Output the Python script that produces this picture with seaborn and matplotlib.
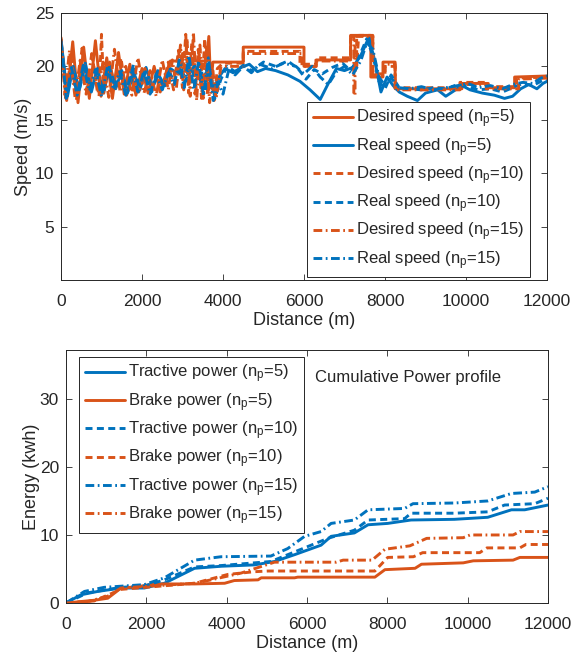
import matplotlib
matplotlib.use("Agg")
import matplotlib.pyplot as plt
import seaborn as sns
import pandas as pd

# ---------------- speed profiles (distance in m, speed in m/s) ----------------
dist_des5 = [0, 140, 290, 420, 560, 700, 850, 990, 1130, 1270, 1420, 1560, 1700, 1850, 2000,
             2150, 2300, 2450, 2600, 2700, 3000, 3000, 3300, 3300, 3600, 3650, 3700, 3750,
             4500, 4500, 6000, 6000, 6300, 6300, 7150, 7150, 7650, 7650, 7950, 7950, 8250,
             8250, 9900, 9900, 10550, 10550, 11200, 11200, 12000]
speed_des5 = [22.7, 16.8, 22.3, 16.6, 21.8, 17.0, 22.4, 17.2, 20.8, 17.0, 21.3, 17.4, 20.2,
              17.3, 19.8, 17.5, 20.0, 17.6, 19.4, 20.5, 20.5, 21.2, 21.2, 20.5, 20.5, 22.8,
              18.0, 20.4, 20.4, 21.8, 21.8, 20.0, 20.0, 20.6, 20.6, 22.9, 22.9, 19.0, 19.0,
              20.4, 20.4, 17.9, 17.9, 18.4, 18.4, 18.0, 18.0, 19.0, 19.1]

dist_real5 = [0, 160, 300, 450, 600, 750, 900, 1050, 1200, 1350, 1500, 1650, 1800, 1950, 2100,
              2250, 2400, 2550, 2700, 2850, 3000, 3150, 3300, 3450, 3600, 3750, 3900, 4050,
              4250, 4450, 4650, 4850, 5050, 5300, 5600, 5900, 6150, 6400, 6600, 6800, 7000,
              7200, 7400, 7600, 7750, 7900, 8050, 8200, 8350, 8550, 8800, 9000, 9300, 9500,
              9700, 9900, 10100, 10400, 10700, 10950, 11150, 11350, 11550, 11750, 11900,
              12000]
speed_real5 = [22.5, 17.2, 20.0, 17.8, 20.3, 17.6, 19.8, 17.5, 20.1, 17.9, 19.6, 17.6, 19.4,
               17.8, 19.9, 17.9, 19.3, 18.2, 19.8, 19.4, 20.3, 19.2, 20.1, 18.6, 19.5, 17.8,
               19.0, 19.8, 19.4, 19.9, 20.2, 19.5, 19.8, 19.6, 19.2, 18.6, 17.8, 16.9, 18.4,
               19.8, 19.6, 19.9, 21.0, 22.7, 20.5, 17.6, 19.0, 18.2, 17.6, 17.2, 16.8, 17.5,
               17.8, 17.2, 17.7, 18.2, 17.8, 17.5, 17.3, 17.0, 17.2, 17.9, 18.3, 17.9, 18.4,
               18.6]

dist_des10 = [0, 120, 250, 380, 520, 660, 800, 940, 1000, 1060, 1200, 1340, 1480, 1620, 1770,
              1920, 2070, 2220, 2370, 2520, 2650, 2780, 2900, 3000, 3080, 3150, 3230, 3310,
              3390, 3470, 3550, 3620, 3700, 3780, 3860, 4000, 4500, 4500, 5900, 5900, 6300,
              6300, 7150, 7150, 7300, 7300, 7350, 7700, 7700, 8000, 8000, 8250, 8250, 9850,
              9850, 10500, 10500, 11250, 11250, 12000]
speed_des10 = [22.5, 17.0, 21.0, 16.8, 21.7, 17.5, 20.2, 17.2, 23.0, 17.5, 20.4, 17.8, 20.8,
               17.3, 19.5, 17.6, 19.8, 17.9, 19.3, 18.0, 20.4, 17.8, 21.5, 18.0, 23.0, 17.5,
               22.2, 17.4, 21.6, 17.0, 22.6, 17.3, 20.0, 16.8, 19.8, 20.3, 20.3, 21.4, 21.4,
               20.2, 20.2, 20.8, 20.8, 22.6, 22.6, 20.0, 22.9, 22.9, 19.3, 19.3, 20.0, 20.0,
               18.0, 18.0, 18.5, 18.5, 18.1, 18.1, 18.9, 19.0]

dist_real10 = [0, 150, 290, 440, 590, 740, 890, 1040, 1190, 1340, 1490, 1640, 1790, 1940, 2090,
               2240, 2390, 2540, 2690, 2840, 2960, 3080, 3200, 3320, 3440, 3560, 3680, 3800,
               3950, 4100, 4300, 4500, 4700, 5000, 5300, 5600, 5850, 6050, 6250, 6450, 6700,
               6950, 7150, 7350, 7550, 7700, 7850, 8000, 8150, 8350, 8600, 8900, 9200, 9500,
               9800, 10050, 10300, 10600, 10900, 11150, 11400, 11650, 11850, 12000]
speed_real10 = [22.3, 17.4, 19.6, 17.6, 20.0, 17.9, 19.5, 17.4, 19.9, 18.0, 19.3, 17.5, 20.2,
                17.9, 19.5, 17.6, 19.6, 18.0, 19.3, 18.4, 20.0, 18.6, 20.6, 18.2, 20.2, 17.6,
                19.8, 17.0, 18.8, 20.0, 19.5, 20.1, 19.6, 20.4, 20.0, 20.5, 19.8, 18.8, 19.7,
                19.3, 19.9, 20.3, 19.6, 20.8, 22.6, 21.0, 18.6, 17.9, 19.2, 18.0, 17.9, 17.8,
                18.0, 17.9, 18.3, 18.1, 17.8, 17.9, 17.6, 18.0, 18.4, 18.2, 18.6, 18.9]

dist_des15 = [0, 100, 210, 350, 480, 620, 760, 900, 1040, 1180, 1320, 1460, 1600, 1750, 1900,
              2050, 2200, 2350, 2500, 2650, 2750, 2850, 2950, 3030, 3110, 3190, 3270, 3350,
              3430, 3510, 3590, 3670, 3750, 3830, 3950, 4500, 4500, 5950, 5950, 6300, 6300,
              7150, 7150, 7230, 7230, 7260, 7260, 7700, 7700, 8000, 8000, 8250, 8250, 9850,
              9850, 10500, 10500, 11300, 11300, 12000]
speed_des15 = [22.6, 17.3, 21.5, 17.0, 20.8, 17.4, 21.2, 17.6, 20.4, 17.1, 21.6, 17.6, 20.0,
               17.3, 20.8, 17.5, 19.6, 17.2, 20.6, 17.8, 20.6, 18.0, 22.0, 17.8, 22.6, 17.2,
               23.2, 16.8, 22.0, 17.0, 21.8, 16.6, 19.6, 17.0, 20.0, 20.0, 21.2, 21.2, 20.0,
               20.0, 20.5, 20.5, 22.8, 22.8, 17.3, 17.3, 22.8, 22.8, 19.2, 19.2, 20.2, 20.2,
               17.8, 17.8, 18.3, 18.3, 17.9, 17.9, 18.8, 18.9]

dist_real15 = [0, 130, 260, 400, 550, 700, 850, 1000, 1150, 1300, 1450, 1600, 1750, 1900, 2050,
               2200, 2350, 2500, 2650, 2800, 2920, 3040, 3160, 3280, 3400, 3520, 3640, 3760,
               3880, 4000, 4150, 4300, 4500, 4700, 4900, 5200, 5500, 5800, 6000, 6200, 6400,
               6600, 6800, 7000, 7200, 7400, 7550, 7700, 7850, 8000, 8150, 8350, 8600, 8900,
               9200, 9500, 9800, 10050, 10300, 10600, 10900, 11150, 11400, 11650, 11850, 12000]
speed_real15 = [22.4, 17.0, 19.9, 17.3, 20.1, 17.7, 19.7, 17.2, 20.0, 17.8, 19.5, 17.3, 19.8,
                17.6, 19.6, 17.4, 19.3, 17.8, 19.4, 18.3, 20.6, 18.0, 21.0, 17.8, 20.5, 17.2,
                20.8, 16.8, 18.5, 17.4, 19.8, 19.2, 20.0, 19.4, 20.2, 19.8, 20.3, 20.0, 19.3,
                20.0, 19.0, 18.3, 19.5, 20.0, 19.2, 20.5, 22.2, 21.6, 19.0, 18.2, 18.9, 18.0,
                17.9, 18.1, 17.8, 18.0, 18.2, 18.4, 18.0, 18.2, 17.9, 18.3, 18.5, 18.4, 18.9,
                19.1]

# ---------------- cumulative energy (distance in m, energy in kWh) ----------------
dist_trac5 = [0, 370, 790, 1370, 1950, 2450, 3200, 3860, 4690, 5190, 5690, 6350, 6600, 7180,
              7520, 8010, 8590, 9670, 10500, 11090, 11420, 12000]
energy_trac5 = [0, 1.2, 1.7, 2.2, 2.2, 2.9, 5.1, 5.4, 5.6, 6.1, 7.1, 8.5, 9.8, 10.3, 11.5,
                11.7, 12.2, 12.3, 12.6, 13.7, 13.7, 14.4]

dist_brake5 = [0, 700, 1040, 1370, 1790, 2200, 3200, 3950, 4190, 4780, 4860, 5690, 5770, 7690,
               7940, 8690, 8850, 9890, 10140, 11130, 11300, 12000]
energy_brake5 = [0, 0.4, 0.7, 2.2, 2.4, 2.8, 2.8, 2.9, 3.3, 3.4, 3.7, 3.7, 3.8, 3.8, 4.9, 5.1,
                 5.7, 5.9, 6.2, 6.3, 6.7, 6.7]

dist_trac10 = [0, 540, 1370, 1950, 2450, 3200, 3860, 5100, 5520, 6520, 7180, 7520, 8430, 8590,
               9670, 10500, 10920, 11670, 12000]
energy_trac10 = [0, 1.5, 2.3, 2.5, 3.4, 5.3, 5.5, 6.1, 7.1, 9.5, 10.7, 12.2, 12.4, 13.2, 13.2,
                 13.4, 14.4, 14.6, 15.4]

dist_brake10 = [0, 700, 1370, 3200, 4030, 4690, 5030, 7690, 8010, 8650, 8880, 10300, 10480,
                11300, 11450, 12000]
energy_brake10 = [0, 0.3, 2.0, 2.9, 4.2, 4.6, 4.7, 4.7, 6.7, 6.8, 7.4, 7.4, 8.1, 8.1, 8.6, 8.6]

dist_trac15 = [0, 460, 950, 1950, 2450, 3200, 3860, 5100, 5520, 5940, 6350, 6600, 7180, 7520,
               8430, 8640, 9670, 10500, 11090, 11670, 12000]
energy_trac15 = [0, 1.7, 2.3, 2.7, 3.7, 6.3, 6.8, 6.9, 8.0, 9.8, 10.5, 11.7, 12.2, 13.7, 13.9,
                 14.6, 14.7, 15.0, 16.1, 16.3, 17.1]

dist_brake15 = [0, 540, 1040, 1370, 3200, 3610, 4360, 5190, 6730, 6900, 7620, 7940, 8560, 8980,
                9890, 10060, 11130, 11300, 12000]
energy_brake15 = [0, 0.2, 1.0, 2.2, 2.9, 3.4, 4.4, 6.0, 6.0, 6.3, 6.3, 7.9, 8.4, 9.5, 9.6, 10.0,
                  10.0, 10.5, 10.5]

x_ticks = [0, 2000, 4000, 6000, 8000, 10000, 12000]
speed_ticks = [5, 10, 15, 20, 25]
energy_ticks = [0, 10, 20, 30]

BLUE = "#0072BD"
ORANGE = "#D95319"
DARK = "#262626"

sns.set_style("ticks")
plt.rcParams["font.family"] = ["Liberation Sans", "DejaVu Sans"]
plt.rcParams["mathtext.fontset"] = "custom"
plt.rcParams["mathtext.rm"] = "Liberation Sans"
plt.rcParams["mathtext.it"] = "Liberation Sans"
plt.rcParams["axes.edgecolor"] = DARK
plt.rcParams["xtick.color"] = DARK
plt.rcParams["ytick.color"] = DARK
plt.rcParams["text.color"] = DARK
plt.rcParams["axes.labelcolor"] = DARK

LW = 2.1
solid = "-"
dashed = (0, (2.4, 1.5))
dashdot = (0, (3.0, 1.2, 0.6, 1.2))

fig = plt.figure(figsize=(5.71, 6.54), dpi=100)
ax1 = fig.add_axes([0.1068, 0.5719, 0.8512, 0.4083])
ax2 = fig.add_axes([0.1156, 0.0780, 0.8441, 0.3869])


def draw(ax, x, y, color, ls, label):
    df = pd.DataFrame({"x": x, "y": y})
    sns.lineplot(data=df, x="x", y="y", ax=ax, color=color, linestyle=ls, lw=LW,
                 sort=False, estimator=None, label=label)


def sub(text, n):
    return text + r" (n$_{\mathregular{p}}$=" + str(n) + ")"


draw(ax1, dist_des5, speed_des5, ORANGE, solid, sub("Desired speed", 5))
draw(ax1, dist_real5, speed_real5, BLUE, solid, sub("Real speed", 5))
draw(ax1, dist_des10, speed_des10, ORANGE, dashed, sub("Desired speed", 10))
draw(ax1, dist_real10, speed_real10, BLUE, dashed, sub("Real speed", 10))
draw(ax1, dist_des15, speed_des15, ORANGE, dashdot, sub("Desired speed", 15))
draw(ax1, dist_real15, speed_real15, BLUE, dashdot, sub("Real speed", 15))

draw(ax2, dist_trac5, energy_trac5, BLUE, solid, sub("Tractive power", 5))
draw(ax2, dist_brake5, energy_brake5, ORANGE, solid, sub("Brake power", 5))
draw(ax2, dist_trac10, energy_trac10, BLUE, dashed, sub("Tractive power", 10))
draw(ax2, dist_brake10, energy_brake10, ORANGE, dashed, sub("Brake power", 10))
draw(ax2, dist_trac15, energy_trac15, BLUE, dashdot, sub("Tractive power", 15))
draw(ax2, dist_brake15, energy_brake15, ORANGE, dashdot, sub("Brake power", 15))

FS = 12.5
LFS = 12
for ax in (ax1, ax2):
    ax.set_xlim(0, 12000)
    ax.set_xticks(x_ticks)
    ax.tick_params(direction="in", top=True, right=True, length=4.5, width=0.6,
                   labelsize=FS, pad=5)
    ax.tick_params(axis="x", pad=10)
    for s in ax.spines.values():
        s.set_linewidth(0.7)
        s.set_visible(True)
    ax.set_xlabel("Distance (m)", fontsize=FS + 0.5, labelpad=2)

ax1.set_ylim(0, 25)
ax1.set_yticks(speed_ticks)
ax1.set_ylabel("Speed (m/s)", fontsize=FS + 0.5, labelpad=1.5)

ax2.set_ylim(0, 37.2)
ax2.set_yticks(energy_ticks)
ax2.set_ylabel("Energy (kwh)", fontsize=FS + 0.5, labelpad=0)

leg_kw = dict(loc="upper left", borderaxespad=0, fontsize=LFS, frameon=True, fancybox=False,
              framealpha=1, edgecolor=DARK, handlelength=2.4, handletextpad=0.2,
              labelspacing=0.34, borderpad=0.35)
leg1 = ax1.legend(bbox_to_anchor=(0.506, 0.667), **leg_kw)
leg2 = ax2.legend(bbox_to_anchor=(0.027, 0.972), **leg_kw)
for leg in (leg1, leg2):
    leg.get_frame().set_linewidth(0.7)

ax2.text(0.517, 0.893, "Cumulative Power profile", transform=ax2.transAxes,
         fontsize=LFS, va="center", ha="left")

fig.savefig("out.png", dpi=100)
